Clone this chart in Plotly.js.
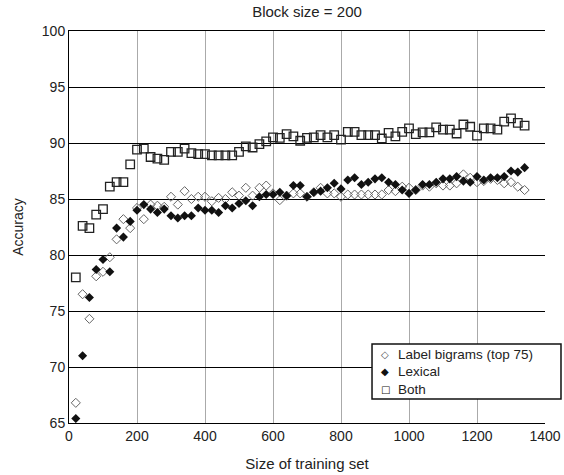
<!DOCTYPE html>
<html>
<head>
<meta charset="utf-8">
<script src="https://cdn.plot.ly/plotly-3.0.1.min.js"></script>
<style>html,body{margin:0;padding:0;background:#fff;}#chart{width:564px;height:475px;}</style>
</head>
<body>
<div id="chart"></div>
<script>
const trainingSize = [20,40,60,80,100,120,140,160,180,200,220,240,260,280,300,320,340,360,380,400,
  420,440,460,480,500,520,540,560,580,600,620,640,660,680,700,720,740,760,780,800,
  820,840,860,880,900,920,940,960,980,1000,1020,1040,1060,1080,1100,1120,1140,1160,1180,1200,
  1220,1240,1260,1280,1300,1320,1340];

const labelBigrams = [66.8,76.5,74.3,78.1,78.5,79.8,81.4,83.2,82.4,84.2,83.2,84.5,84.4,84.3,85.2,84.5,85.7,85.0,85.2,85.2,
  84.8,85.1,85.0,85.6,85.3,86.0,85.3,86.0,86.2,85.5,84.9,85.3,85.5,85.5,85.2,85.6,86.0,85.5,85.5,85.2,
  85.4,85.4,85.4,85.4,85.4,85.4,85.8,85.7,86.1,86.0,85.8,86.2,86.1,86.4,86.2,86.2,86.4,87.2,86.9,86.5,
  86.6,86.8,86.7,86.4,86.5,86.1,85.8];

const lexical = [65.4,71.0,76.2,78.7,79.6,78.5,82.4,81.6,83.0,84.0,84.5,84.1,83.8,84.1,83.5,83.3,83.5,83.5,84.2,84.0,
  84.0,83.8,84.4,84.2,84.6,84.85,84.4,85.2,85.4,85.4,85.6,85.3,86.2,86.2,85.2,85.6,85.7,86.0,86.4,85.9,
  86.7,86.9,86.3,86.5,86.8,86.9,86.5,86.3,85.8,85.5,85.8,86.3,86.3,86.5,86.8,86.8,87.0,86.6,86.5,87.0,
  86.7,86.9,86.9,87.0,87.5,87.4,87.8];

const both = [78.0,82.6,82.4,83.6,84.1,86.1,86.5,86.5,88.1,89.4,89.5,88.75,88.6,88.5,89.2,89.2,89.5,89.1,89.0,89.0,
  88.9,88.9,88.9,88.9,89.2,89.7,89.6,89.9,90.15,90.5,90.45,90.8,90.6,90.2,90.45,90.5,90.7,90.5,90.7,90.3,
  91.0,91.0,90.7,90.7,90.7,90.4,90.9,90.6,91.0,91.3,90.8,90.95,90.95,91.4,91.2,91.2,90.85,91.65,91.45,90.65,
  91.3,91.3,91.2,91.9,92.2,91.8,91.55];

const seriesNames = ['Label bigrams (top 75)', 'Lexical', 'Both'];
const legendSymbols = ['\u25C7', '\u25C6', '\u25A1'];
const xTicks = [0,200,400,600,800,1000,1200,1400];
const yTicks = [65,70,75,80,85,90,95,100];

const fam = 'Liberation Sans, Arial, sans-serif';
const font = {family: fam, size: 14, color: '#222'};
const titleFont = {family: fam, size: 15, color: '#222'};

const traces = [
  {x: trainingSize, y: labelBigrams, name: seriesNames[0], mode: 'markers', type: 'scatter',
   marker: {symbol: 'diamond-open', size: 7, color: '#666', line: {width: 1, color: '#666'}}},
  {x: trainingSize, y: lexical, name: seriesNames[1], mode: 'markers', type: 'scatter',
   marker: {symbol: 'diamond', size: 7, color: '#111', line: {width: 0}}},
  {x: trainingSize, y: both, name: seriesNames[2], mode: 'markers', type: 'scatter',
   marker: {symbol: 'square-open', size: 8.5, color: '#222', line: {width: 1.3, color: '#222'}}}
];

// manual legend (box + symbols + labels), positioned in paper coordinates
const legX0 = 0.6366, legX1 = 1.0336, legY0 = 0.0612, legY1 = 0.2015;
const legSymX = 0.6639, legTextX = 0.689;
const legRowsY = [0.176, 0.1314, 0.0867];

const shapes = [{type: 'rect', xref: 'paper', yref: 'paper', x0: legX0, x1: legX1, y0: legY0, y1: legY1,
  line: {color: '#111', width: 1.5}, fillcolor: '#fff', layer: 'above'}];

const annotations = [];
seriesNames.forEach((n, i) => {
  annotations.push({xref: 'paper', yref: 'paper', x: legSymX, y: legRowsY[i], xanchor: 'center', yanchor: 'middle',
    text: legendSymbols[i], showarrow: false, borderpad: 0,
    font: {family: 'DejaVu Sans', size: 10, color: i === 0 ? '#555' : '#111'}});
  annotations.push({xref: 'paper', yref: 'paper', x: legTextX, y: legRowsY[i], xanchor: 'left', yanchor: 'middle',
    text: n, showarrow: false, borderpad: 0, font: {family: fam, size: 13.5, color: '#222'}});
});

const layout = {
  width: 564, height: 475,
  margin: {l: 69, r: 19, t: 31, b: 52, autoexpand: false},
  paper_bgcolor: '#fff', plot_bgcolor: '#fff',
  font: font,
  title: {text: 'Block size = 200', x: 0.5, xref: 'paper', y: 0.975, yanchor: 'middle', font: titleFont},
  xaxis: {
    range: [0, 1400], tickvals: xTicks, ticktext: xTicks.map(String),
    showgrid: true, gridcolor: '#aaa', gridwidth: 1,
    showline: true, linecolor: '#000', linewidth: 1, mirror: true,
    ticks: '', zeroline: false,
    title: {text: 'Size of training set', font: titleFont, standoff: 15},
    tickfont: font
  },
  yaxis: {
    range: [65, 100], tickvals: yTicks, ticktext: yTicks.map(String),
    showgrid: true, gridcolor: '#000', gridwidth: 1,
    showline: true, linecolor: '#000', linewidth: 1,
    ticks: '', zeroline: false,
    title: {text: 'Accuracy', font: font, standoff: 14},
    tickfont: font
  },
  showlegend: false,
  shapes: shapes,
  annotations: annotations
};

Plotly.newPlot('chart', traces, layout, {displayModeBar: false, staticPlot: true});
</script>
</body>
</html>
